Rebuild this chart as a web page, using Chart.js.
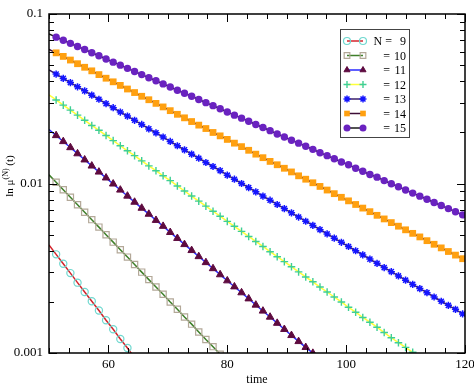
<!DOCTYPE html>
<html lang="en">
<head>
  <meta charset="UTF-8">
  <title>Decay of ln mu</title>
  <script src="https://cdn.jsdelivr.net/npm/chart.js"></script>
  <style>
    body { margin: 0; background: #fff; }
  </style>
</head>
<body>
  <canvas id="decayChart" width="474" height="383"></canvas>

  <script>
    // time points of the markers (first one only starts the line at the axis)
    const times = [50, 51.2, 52.4, 53.6, 54.8, 56, 57.2, 58.4, 59.6, 60.8, 62, 63.2, 64.4, 65.6, 66.8, 68, 69.2, 70.4, 71.6, 72.8,
      74, 75.2, 76.4, 77.6, 78.8, 80, 81.2, 82.4, 83.6, 84.8, 86, 87.2, 88.4, 89.6, 90.8, 92, 93.2, 94.4, 95.6, 96.8,
      98, 99.2, 100.4, 101.6, 102.8, 104, 105.2, 106.4, 107.6, 108.8, 110, 111.2, 112.4, 113.6, 114.8, 116, 117.2, 118.4, 119.6];

    const n9 = [0.00434, 0.00382, 0.00336, 0.00296, 0.00260, 0.00229, 0.00202, 0.00178, 0.00156, 0.00138, 0.00121, 0.00107, 0.000938];
    const n10 = [0.01125, 0.01016, 0.00918, 0.00829, 0.00749, 0.00677, 0.00612, 0.00553, 0.00499, 0.00451, 0.00407, 0.00368, 0.00333,
      0.00300, 0.00271, 0.00245, 0.00222, 0.00200, 0.00181, 0.00163, 0.00148, 0.00133, 0.00120, 0.00109, 0.000983];
    const n11 = [0.0208, 0.0192, 0.0177, 0.0163, 0.0150, 0.0138, 0.0127, 0.0117, 0.0108, 0.00995, 0.00916, 0.00844, 0.00777,
      0.00716, 0.00660, 0.00607, 0.00560, 0.00515, 0.00475, 0.00437, 0.00403, 0.00371, 0.00342, 0.00315, 0.00290, 0.00267,
      0.00246, 0.00227, 0.00209, 0.00192, 0.00177, 0.00163, 0.00150, 0.00138, 0.00127, 0.00117, 0.00108, 0.000998];
    const n12 = [0.0333, 0.0311, 0.0290, 0.0271, 0.0253, 0.0236, 0.0220, 0.0206, 0.0192, 0.0179, 0.0167, 0.0156, 0.0146, 0.0136,
      0.0127, 0.0119, 0.0111, 0.0104, 0.00967, 0.00903, 0.00843, 0.00787, 0.00735, 0.00686, 0.00641, 0.00598, 0.00559, 0.00522,
      0.00487, 0.00455, 0.00425, 0.00396, 0.00370, 0.00346, 0.00323, 0.00301, 0.00281, 0.00263, 0.00245, 0.00229, 0.00214,
      0.00200, 0.00186, 0.00174, 0.00162, 0.00152, 0.00142, 0.00132, 0.00123, 0.00115, 0.00108, 0.00101, 0.000939];
    const n13 = [0.0468, 0.0442, 0.0417, 0.0394, 0.0372, 0.0352, 0.0332, 0.0314, 0.0296, 0.0280, 0.0264, 0.0250, 0.0236, 0.0223,
      0.0210, 0.0199, 0.0188, 0.0177, 0.0167, 0.0158, 0.0149, 0.0141, 0.0133, 0.0126, 0.0119, 0.0112, 0.0106, 0.0100, 0.00945,
      0.00893, 0.00843, 0.00797, 0.00752, 0.00711, 0.00671, 0.00634, 0.00599, 0.00566, 0.00534, 0.00504, 0.00476, 0.00450,
      0.00425, 0.00401, 0.00379, 0.00358, 0.00338, 0.00319, 0.00302, 0.00285, 0.00269, 0.00254, 0.00240, 0.00227, 0.00214,
      0.00202, 0.00191, 0.00181, 0.00170];
    const n14 = [0.0619, 0.0590, 0.0562, 0.0535, 0.0509, 0.0485, 0.0462, 0.0439, 0.0418, 0.0398, 0.0379, 0.0361, 0.0344, 0.0327,
      0.0312, 0.0297, 0.0283, 0.0269, 0.0256, 0.0244, 0.0232, 0.0221, 0.0211, 0.0200, 0.0191, 0.0182, 0.0173, 0.0165, 0.0157,
      0.0149, 0.0142, 0.0135, 0.0129, 0.0123, 0.0117, 0.0111, 0.0106, 0.0101, 0.00961, 0.00915, 0.00871, 0.00829, 0.00790,
      0.00752, 0.00716, 0.00682, 0.00649, 0.00618, 0.00588, 0.00560, 0.00533, 0.00508, 0.00484, 0.00460, 0.00438, 0.00417,
      0.00397, 0.00378, 0.00360];
    const n15 = [0.0762, 0.0730, 0.0700, 0.0671, 0.0643, 0.0617, 0.0591, 0.0567, 0.0543, 0.0520, 0.0499, 0.0478, 0.0458, 0.0439,
      0.0421, 0.0404, 0.0387, 0.0371, 0.0355, 0.0341, 0.0327, 0.0313, 0.0300, 0.0288, 0.0276, 0.0264, 0.0253, 0.0243, 0.0233,
      0.0223, 0.0214, 0.0205, 0.0196, 0.0188, 0.0180, 0.0173, 0.0166, 0.0159, 0.0152, 0.0146, 0.0140, 0.0134, 0.0129, 0.0123,
      0.0118, 0.0113, 0.0109, 0.0104, 0.00997, 0.00956, 0.00916, 0.00878, 0.00842, 0.00807, 0.00773, 0.00741, 0.00711,
      0.00681, 0.00653];

    const legendPrefix = ["N =", "=", "=", "=", "=", "=", "="];
    const legendNumbers = ["9", "10", "11", "12", "13", "14", "15"];
    const xTicks = [60, 80, 100, 120];
    const yTicks = [0.001, 0.01, 0.1];

    const SERIF = '"Liberation Serif", "DejaVu Serif", serif';

    function series(vals, line, marker, style, radius, filled, pbw) {
      return {
        data: vals.map((v, i) => ({ x: times[i], y: v })),
        borderColor: line,
        borderWidth: 1.5,
        backgroundColor: line,
        fill: false,
        tension: 0,
        pointStyle: style,
        pointRadius: c => c.dataIndex === 0 ? 0 : radius,
        pointBorderColor: marker,
        pointBackgroundColor: filled ? marker : "rgba(0,0,0,0)",
        pointBorderWidth: pbw
      };
    }

    const datasets = [
      series(n9, "#d4242c", "#6fd8cf", "circle", 3.6, false, 1.2),
      series(n10, "#3f7f2a", "#b3a898", "rect", 4.4, false, 1.2),
      series(n11, "#2a2aff", "#5e0b3f", "triangle", 4.3, true, 1),
      series(n12, "#ffff3a", "#3fcf95", "cross", 3.8, false, 1.4),
      series(n13, "#3a1f6a", "#1414ff", "star", 3.6, true, 1.5),
      series(n14, "#3c0d36", "#ffa010", "rect", 4.8, true, 0),
      series(n15, "#1a1a1a", "#6a22c0", "circle", 3.7, true, 0)
    ];

    // frame, inward tick marks, legend and axis titles
    const decor = {
      id: "decor",
      afterDatasetsDraw(chart) {
        const { ctx, chartArea: a, scales: { x, y } } = chart;
        ctx.save();
        ctx.strokeStyle = "#000";
        ctx.lineWidth = 1;
        ctx.beginPath();
        for (let v = 50; v <= 120.01; v += 10 / 3) {
          const px = Math.round(x.getPixelForValue(v)) + 0.5;
          const major = Math.abs((v - 60) / 20 - Math.round((v - 60) / 20)) < 1e-6;
          const len = major ? 8 : 5;
          ctx.moveTo(px, a.bottom); ctx.lineTo(px, a.bottom - len);
          ctx.moveTo(px, a.top); ctx.lineTo(px, a.top + len);
        }
        [0.001, 0.01].forEach(d => {
          for (let m = 1; m <= 10; m++) {
            const py = Math.round(y.getPixelForValue(m * d)) + 0.5;
            const len = (m === 1 || m === 10) ? 8 : 5;
            ctx.moveTo(a.left, py); ctx.lineTo(a.left + len, py);
            ctx.moveTo(a.right, py); ctx.lineTo(a.right - len, py);
          }
        });
        ctx.stroke();

        ctx.lineWidth = 1.5;
        ctx.strokeRect(a.left, a.top, a.right - a.left, a.bottom - a.top);

        // legend
        const lx = 340, ly = 29, lw = 69, lh = 108;
        ctx.fillStyle = "#fff";
        ctx.fillRect(lx, ly, lw, lh);
        ctx.lineWidth = 1;
        ctx.strokeStyle = "#444";
        ctx.strokeRect(lx + 0.5, ly + 0.5, lw, lh);
        chart.data.datasets.forEach((ds, i) => {
          const ry = ly + 12 + i * 14.5;
          ctx.strokeStyle = ds.borderColor;
          ctx.lineWidth = 1.5;
          ctx.beginPath();
          ctx.moveTo(347, ry); ctx.lineTo(363, ry);
          ctx.stroke();
          [347, 363].forEach(px => {
            ctx.fillStyle = ds.pointBackgroundColor;
            ctx.strokeStyle = ds.pointBorderColor;
            ctx.lineWidth = ds.pointBorderWidth;
            Chart.helpers.drawPoint(ctx, {
              pointStyle: ds.pointStyle,
              radius: ds.pointStyle === "rect" ? 4 : 3.5,
              borderWidth: ds.pointBorderWidth,
              rotation: 0
            }, px, ry);
          });
          ctx.fillStyle = "#000";
          ctx.font = "12px " + SERIF;
          ctx.textBaseline = "middle";
          ctx.textAlign = "right";
          ctx.fillText(legendNumbers[i], 406, ry + 1);
          ctx.fillText(legendPrefix[i], i === 0 ? 392 : 390, ry + 1);
        });

        // axis titles
        ctx.textAlign = "center";
        ctx.textBaseline = "alphabetic";
        ctx.font = "12px " + SERIF;
        ctx.fillText("time", (a.left + a.right) / 2, 383);

        ctx.translate(13, 176);
        ctx.rotate(-Math.PI / 2);
        ctx.textAlign = "left";
        const f1 = "11px " + SERIF, f2 = "8px " + SERIF;
        ctx.font = f1;
        const w1 = ctx.measureText("ln \u03bc").width;
        const w3 = ctx.measureText(" (t)").width;
        ctx.font = f2;
        const w2 = ctx.measureText("(N)").width;
        let sx = -(w1 + w2 + w3) / 2;
        ctx.font = f1;
        ctx.fillText("ln \u03bc", sx, 0);
        ctx.font = f2;
        ctx.fillText("(N)", sx + w1, -5);
        ctx.font = f1;
        ctx.fillText(" (t)", sx + w1 + w2, 0);
        ctx.restore();
      }
    };

    new Chart(document.getElementById("decayChart"), {
      type: "line",
      data: { datasets },
      options: {
        responsive: false,
        animation: false,
        layout: { padding: { top: 14, right: 9, left: 0, bottom: 0 } },
        plugins: { legend: { display: false }, tooltip: { enabled: false } },
        scales: {
          x: {
            type: "linear",
            min: 50,
            max: 120,
            grid: { display: false, drawTicks: false },
            border: { display: false },
            afterBuildTicks: s => { s.ticks = xTicks.map(v => ({ value: v })); },
            afterFit: s => { s.height = 30; s.paddingLeft = 0; s.paddingRight = 0; },
            ticks: { color: "#000", padding: 4, maxRotation: 0, font: { family: SERIF, size: 13 } }
          },
          y: {
            type: "logarithmic",
            min: 0.001,
            max: 0.1,
            grid: { display: false, drawTicks: false },
            border: { display: false },
            afterBuildTicks: s => { s.ticks = yTicks.map(v => ({ value: v })); },
            afterFit: s => { s.width = 49; s.paddingTop = 0; s.paddingBottom = 0; },
            ticks: { color: "#000", padding: 6, font: { family: SERIF, size: 13 }, callback: v => String(v) }
          }
        }
      },
      plugins: [decor]
    });
  </script>
</body>
</html>
